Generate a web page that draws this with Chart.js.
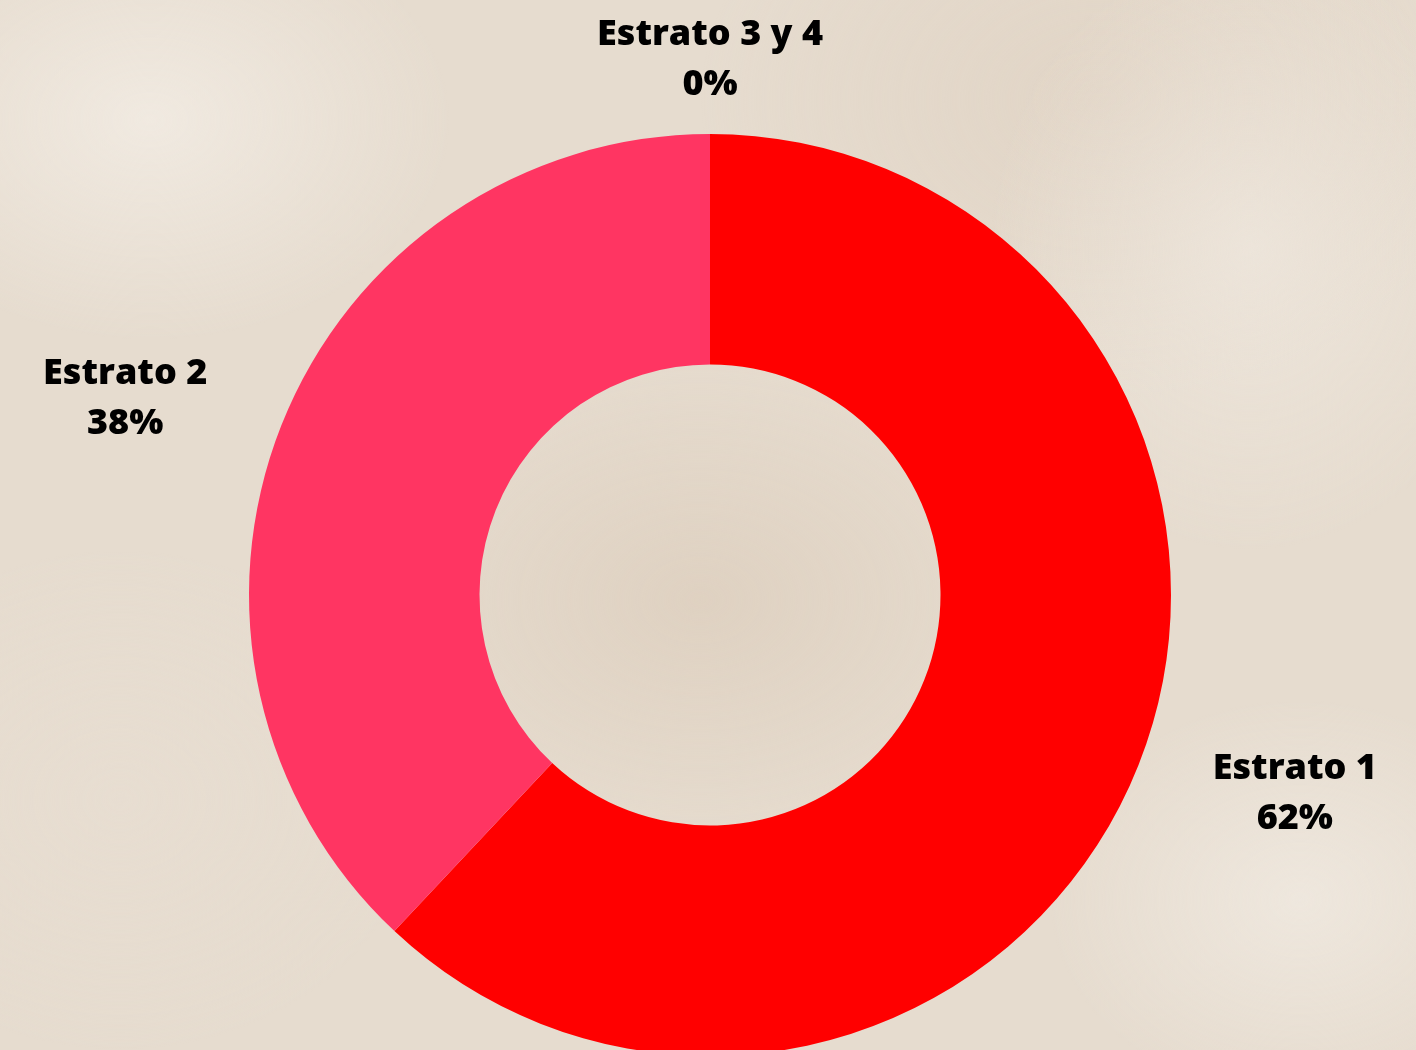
<!DOCTYPE html>
<html lang="es">
<head>
<meta charset="UTF-8">
<title>Estratos</title>
<script src="https://cdn.jsdelivr.net/npm/chart.js"></script>
<style>
  html, body { margin: 0; padding: 0; overflow: hidden; }
  body {
    width: 1416px; height: 1050px;
    background-color: #e6dccf;
    background-image:
      radial-gradient(ellipse 300px 220px at 150px 120px, rgba(243,237,229,0.8), transparent),
      radial-gradient(ellipse 260px 300px at 1250px 250px, rgba(240,233,224,0.7), transparent),
      radial-gradient(ellipse 360px 260px at 700px 600px, rgba(218,202,184,0.6), transparent),
      radial-gradient(ellipse 250px 200px at 1300px 900px, rgba(242,236,228,0.7), transparent),
      radial-gradient(ellipse 300px 250px at 120px 800px, rgba(232,222,210,0.7), transparent),
      radial-gradient(ellipse 400px 300px at 1100px 100px, rgba(222,208,192,0.6), transparent);
  }
  #wrap { position: absolute; left: 0; top: 0; width: 1416px; height: 1100px; }
</style>
</head>
<body>
<div id="wrap"><canvas id="grafico"></canvas></div>
<script>
// Datos del gráfico
const categorias = ['Estrato 1', 'Estrato 2', 'Estrato 3 y 4'];
const porcentajes = [62, 38, 0];
const colores = ['#ff0000', '#ff3562', '#ff7a8a'];

// Etiquetas externas (nombre + porcentaje) colocadas sobre una elipse alrededor del anillo
const etiquetasExternas = {
  id: 'etiquetasExternas',
  afterDraw(chart) {
    const ctx = chart.ctx;
    const arcos = chart.getDatasetMeta(0).data;
    ctx.save();
    ctx.font = '800 36px "Open Sans"';
    ctx.fillStyle = '#000';
    ctx.textAlign = 'center';
    ctx.textBaseline = 'middle';
    arcos.forEach((arco, i) => {
      const p = arco.getProps(['x', 'y', 'startAngle', 'endAngle', 'outerRadius']);
      const ang = (p.startAngle + p.endAngle) / 2;
      const x = p.x + Math.cos(ang) * (p.outerRadius + 168);
      const y = p.y + Math.sin(ang) * (p.outerRadius + 75);
      ctx.fillText(categorias[i], x, y - 24);
      ctx.fillText(porcentajes[i] + '%', x, y + 26);
    });
    ctx.restore();
  }
};

new Chart(document.getElementById('grafico'), {
  type: 'doughnut',
  data: {
    labels: categorias,
    datasets: [{
      data: porcentajes,
      backgroundColor: colores,
      borderWidth: 0
    }]
  },
  options: {
    responsive: true,
    maintainAspectRatio: false,
    animation: false,
    cutout: '50%',
    layout: { padding: { top: 134, bottom: 44, left: 4, right: 0 } },
    plugins: {
      legend: { display: false },
      tooltip: { enabled: false }
    }
  },
  plugins: [etiquetasExternas]
});
</script>
</body>
</html>
